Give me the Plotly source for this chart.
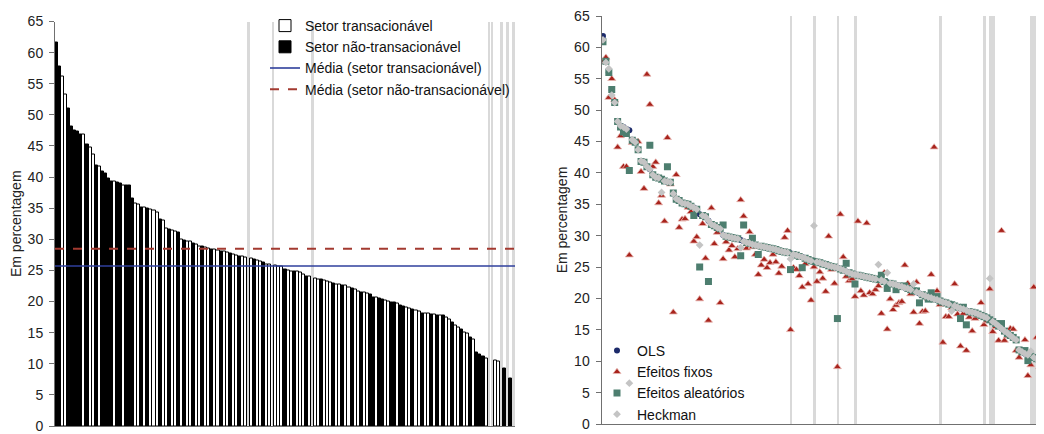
import plotly.graph_objects as go

# ---------------- Left panel data ----------------
n_slots = 151
slots = list(range(n_slots))
# bar values sorted (None = highlighted empty slot)
bar_values = [
    61.6, 57.7, 56.1, 53.3, 51.1, 48.2, 47.5, 47.3, 46.9, 46.8,
    45.2, 44.8, 43.6, 41.8, 41.7, 40.9, 40.6, 39.7, 39.3, 39.3,
    39.2, 39.0, 38.7, 38.6, 38.6, 36.6, 35.8, 35.6, 35.1, 35.1,
    35.0, 34.8, 34.6, 34.3, 33.2, 33.1, 31.8, 31.6, 31.4, 31.2,
    31.1, 29.9, 29.8, 29.7, 29.6, 29.4, 29.2, 28.9, 28.8, 28.7,
    28.6, 28.4, 28.3, 28.2, 28.1, 28.0, 27.9, 27.8, 27.5, 27.4,
    27.3, 27.2, 27.1, None, 26.9, 26.7, 26.6, 26.4, 26.2, 26.0,
    25.9, None, 25.8, 25.7, 25.7, 25.1, 25.0, 24.9, 24.9, 24.8,
    24.7, 24.4, 24.1, 24.0, None, 23.7, 23.6, 23.5, 23.4, 23.3,
    23.1, 22.9, 22.8, 22.7, 22.6, 22.5, 22.3, 22.1, 21.9, 21.6,
    21.5, 21.4, 21.3, 21.2, 20.7, 20.6, 20.5, 20.4, 20.1, 20.0,
    19.9, 19.8, 19.7, 19.3, 19.2, 19.0, 18.9, 18.7, 18.5, 18.4,
    18.1, 18.0, 18.0, 17.9, 17.9, 17.8, 17.7, 17.7, 17.4, 17.1,
    16.6, 16.2, 15.9, 15.5, 15.1, 14.8, 14.3, 13.9, 11.8, 11.5,
    11.1, 10.9, None, None, 10.6, 10.3, None, 9.2, None, 7.7,
    None,
]
# 1 = tradable (white), 0 = non-tradable (black)
bar_tradable = [
    0, 0, 1, 1, 0, 0, 0, 0, 0, 1,
    0, 1, 1, 0, 1, 0, 0, 0, 0, 1,
    0, 0, 1, 0, 0, 0, 1, 1, 0, 1,
    0, 1, 1, 1, 0, 1, 1, 0, 1, 1,
    0, 1, 0, 1, 1, 0, 1, 1, 0, 1,
    1, 0, 1, 1, 0, 1, 1, 0, 1, 1,
    0, 1, 1, 0, 1, 0, 1, 1, 0, 1,
    1, 0, 1, 1, 1, 0, 1, 1, 0, 1,
    1, 1, 0, 1, 0, 1, 1, 0, 1, 1,
    1, 0, 1, 1, 0, 1, 1, 0, 1, 1,
    0, 1, 1, 0, 0, 1, 0, 0, 1, 1,
    0, 0, 1, 0, 0, 1, 1, 0, 1, 1,
    0, 1, 1, 0, 1, 0, 1, 0, 1, 1,
    0, 1, 1, 0, 1, 1, 0, 1, 0, 0,
    0, 1, 0, 0, 1, 1, 0, 0, 0, 0,
    0,
]
left_band_slots = [63, 71, 84, 142, 143, 146, 148, 150]
mean_tradable = 25.7
mean_nontradable = 28.5

# ---------------- Right panel data ----------------
ols = [
    61.8, 57.8, 56.0, 53.2, 51.2, 48.2, 47.5, 47.3, 47.0, 46.8,
    45.3, 44.9, 43.7, 41.9, 41.7, 41.0, 40.6, 39.7, 39.3, 39.2,
    39.0, 38.7, 38.6, 38.5, 36.7, 35.9, 35.6, 35.2, 35.1, 35.0,
    34.7, 34.5, 34.2, 33.4, 33.2, 33.0, 32.4, 31.8, 31.6, 31.3,
    31.1, 30.1, 29.9, 29.8, 29.7, 29.6, 29.5, 29.3, 29.1, 28.9,
    28.8, 28.6, 28.5, 28.4, 28.3, 28.2, 28.1, 28.0, 27.9, 27.8,
    27.6, 27.5, 27.4, 27.3, 27.2, 27.0, 26.9, 26.7, 26.6, 26.4,
    26.2, 26.0, 25.9, 25.8, 25.7, 25.5, 25.4, 25.2, 25.1, 25.0,
    24.9, 24.7, 24.5, 24.3, 24.1, 23.9, 23.8, 23.7, 23.6, 23.5,
    23.4, 23.3, 23.2, 23.1, 23.0, 22.9, 22.7, 22.6, 22.4, 22.3,
    22.2, 22.0, 21.9, 21.7, 21.6, 21.4, 21.2, 21.0, 20.8, 20.6,
    20.4, 20.2, 20.1, 19.9, 19.8, 19.6, 19.4, 19.3, 19.1, 19.0,
    18.8, 18.6, 18.4, 18.3, 18.1, 17.9, 17.8, 17.7, 17.5, 17.3,
    17.1, 16.9, 16.6, 16.3, 16.0, 15.6, 15.2, 14.8, 14.5, 14.1,
    13.7, 13.4, 11.8, 11.5, 11.2, 11.0, 10.8, 10.6, 10.3, 10.1,
    9.8,
]
fixed_effects = [
    57.7, 58.4, 52.0, 55.0, 51.6, 44.1, 45.9, 41.0, 41.0, 26.9,
    44.8, 45.0, 45.0, 40.2, 37.5, 55.7, 50.9, 41.0, 41.7, 35.2,
    36.4, 32.3, 45.6, 38.2, 17.8, 39.7, 31.3, 32.6, 32.7, 34.5,
    33.8, 29.1, 29.8, 19.9, 31.9, 26.4, 16.5, 34.4, 28.7, 30.5,
    19.3, 26.3, 29.0, 27.7, 28.4, 26.6, 27.9, 35.7, 33.1, 28.0,
    30.6, 28.2, 27.0, 23.8, 25.3, 26.2, 24.9, 25.7, 27.0, 25.8,
    24.0, 25.1, 29.7, 30.8, 15.0, 24.9, 24.6, 23.6, 21.8, 25.5,
    22.3, 19.7, 25.0, 22.7, 24.2, 23.2, 21.1, 29.9, 24.6, 22.4,
    9.1, 33.4, 26.6, 23.5, 22.8, 23.1, 20.3, 32.3, 21.2, 20.5,
    32.0, 20.9, 20.7, 21.4, 22.0, 17.6, 24.1, 15.1, 19.9, 18.2,
    18.9, 19.3, 19.5, 25.3, 22.4, 20.7, 17.8, 22.6, 16.0, 17.9,
    18.0, 20.0, 23.8, 44.1, 21.2, 19.0, 13.0, 17.1, 17.1, 18.5,
    22.3, 17.5, 12.4, 17.6, 11.7, 17.0, 14.8, 16.8, 17.3, 19.3,
    15.8, 16.4, 21.5, 14.7, 15.5, 13.3, 30.8, 13.3, 14.0, 15.2,
    15.1, 11.7, 10.6, 11.7, 13.4, 7.7, 9.4, 21.8, 13.8, 9.1,
    7.4,
]
random_effects = [
    60.9, 57.8, 56.0, 53.3, 51.2, 48.2, 47.3, 46.5, 46.3, 40.4,
    45.2, 44.9, 43.7, 41.8, 41.7, 41.0, 44.4, 39.7, 39.3, 39.2,
    39.0, 38.7, 41.0, 38.5, 36.8, 35.8, 35.6, 35.2, 35.1, 35.0,
    34.7, 33.2, 34.2, 25.0, 33.2, 33.0, 22.7, 31.8, 31.6, 31.3,
    31.1, 31.7, 29.9, 29.8, 29.7, 29.6, 29.5, 26.8, 31.7, 28.9,
    28.8, 29.6, 28.5, 27.0, 28.3, 28.2, 28.1, 28.0, 27.9, 27.8,
    27.6, 27.5, 27.4, 27.3, 24.6, 27.0, 26.9, 26.7, 24.9, 26.4,
    26.2, 26.0, 25.9, 25.8, 25.7, 25.5, 25.4, 25.2, 25.1, 25.0,
    16.8, 24.7, 24.5, 25.6, 24.1, 23.9, 22.3, 23.7, 23.6, 23.5,
    23.4, 23.3, 23.2, 23.1, 23.0, 23.7, 22.7, 21.6, 22.4, 22.3,
    21.4, 22.0, 21.9, 22.0, 21.6, 21.4, 21.2, 21.2, 19.3, 20.6,
    20.4, 19.9, 20.9, 19.9, 20.3, 19.6, 19.4, 19.3, 19.1, 19.0,
    18.8, 18.6, 16.8, 18.6, 15.8, 17.9, 17.8, 17.7, 17.5, 17.3,
    17.1, 16.9, 16.6, 16.3, 16.0, 15.6, 16.0, 14.8, 14.4, 14.1,
    13.8, 13.4, 11.8, 11.5, 11.7, 10.1, 10.8, 10.6, 10.4, 10.1,
    9.2,
]
heckman = [
    61.2, 57.6, 56.6, 52.4, 51.2, 48.2, 47.5, 47.3, 47.0, 6.5,
    45.3, 44.9, 43.7, 41.9, 41.7, 41.0, 40.6, 39.7, 39.3, 39.2,
    36.9, 38.7, 38.6, 38.5, 36.7, 35.9, 35.6, 35.2, 35.1, 35.0,
    34.7, 34.5, 34.2, 28.5, 33.2, 33.0, 32.4, 31.8, 31.6, 31.3,
    31.1, 30.1, 29.9, 29.8, 29.7, 29.6, 29.5, 28.1, 29.1, 28.9,
    28.8, 28.6, 28.5, 28.4, 28.3, 28.2, 28.1, 28.0, 27.9, 27.8,
    27.6, 27.5, 27.4, 27.3, 26.3, 27.0, 26.9, 26.7, 26.6, 26.4,
    26.2, 26.0, 31.6, 25.8, 25.7, 25.5, 25.4, 25.2, 25.1, 25.0,
    24.9, 24.7, 24.5, 24.3, 24.1, 23.9, 23.8, 23.7, 23.6, 23.5,
    23.4, 23.3, 23.2, 23.1, 25.4, 22.9, 22.7, 24.1, 22.4, 22.3,
    22.2, 22.0, 21.9, 21.7, 21.6, 21.4, 22.3, 21.0, 20.8, 20.6,
    20.4, 20.2, 20.1, 19.9, 19.8, 19.6, 19.4, 19.3, 19.1, 18.0,
    18.8, 18.6, 18.4, 18.3, 18.1, 17.9, 17.8, 17.7, 17.5, 17.3,
    17.1, 16.9, 23.2, 16.3, 16.0, 15.6, 15.2, 14.8, 14.5, 14.1,
    13.7, 13.4, 11.8, 11.5, 11.2, 11.0, 11.6, 10.6, 10.3, 10.1,
    9.8,
]
right_band_slots = [64, 72, 80, 86, 115, 130, 132, 133, 146, 147, 150]

y_ticks = [0, 5, 10, 15, 20, 25, 30, 35, 40, 45, 50, 55, 60, 65]
y_max = 65
FONT = "Liberation Sans, Arial, sans-serif"
BAND = "#d9d9d9"

fig = go.Figure()

# ---- left panel ----
fig.add_trace(go.Bar(
    x=left_band_slots, y=[y_max] * len(left_band_slots), width=0.85,
    marker=dict(color=BAND, line=dict(width=0)), showlegend=False,
    xaxis="x", yaxis="y", hoverinfo="skip"))

x_t = [s for s in slots if bar_values[s] is not None and bar_tradable[s] == 1]
y_t = [bar_values[s] for s in x_t]
x_n = [s for s in slots if bar_values[s] is not None and bar_tradable[s] == 0]
y_n = [bar_values[s] for s in x_n]

fig.add_trace(go.Bar(
    x=x_t, y=y_t, width=1, name="Setor transacionável",
    marker=dict(color="white", line=dict(color="black", width=1)),
    xaxis="x", yaxis="y", legend="legend"))
fig.add_trace(go.Bar(
    x=x_n, y=y_n, width=1, name="Setor não-transacionável",
    marker=dict(color="black", line=dict(color="black", width=1)),
    xaxis="x", yaxis="y", legend="legend"))
fig.add_trace(go.Scatter(
    x=[-0.5, n_slots - 0.5], y=[mean_tradable, mean_tradable], mode="lines",
    name="Média (setor transacionável)", line=dict(color="#2f3f9c", width=1.6),
    xaxis="x", yaxis="y", legend="legend"))
fig.add_trace(go.Scatter(
    x=[-0.5, n_slots - 0.5], y=[mean_nontradable, mean_nontradable], mode="lines",
    name="Média (setor não-transacionável)",
    line=dict(color="#a33a30", width=2, dash="dash"),
    xaxis="x", yaxis="y", legend="legend"))

# ---- right panel ----
fig.add_trace(go.Bar(
    x=right_band_slots, y=[y_max] * len(right_band_slots), width=0.95,
    marker=dict(color=BAND, line=dict(width=0)), showlegend=False,
    xaxis="x2", yaxis="y2", hoverinfo="skip"))
fig.add_trace(go.Scatter(
    x=slots, y=ols, mode="markers", name="OLS",
    marker=dict(symbol="circle", size=6, color="#1c2a6a"),
    xaxis="x2", yaxis="y2", legend="legend2"))
fig.add_trace(go.Scatter(
    x=slots, y=fixed_effects, mode="markers", name="Efeitos fixos",
    marker=dict(symbol="triangle-up", size=7, color="#a8231c",
                line=dict(color="#e9b9b4", width=0.8)),
    xaxis="x2", yaxis="y2", legend="legend2"))
fig.add_trace(go.Scatter(
    x=slots, y=random_effects, mode="markers", name="Efeitos aleatórios",
    marker=dict(symbol="square", size=7, color="#4d7e6f"),
    xaxis="x2", yaxis="y2", legend="legend2"))
fig.add_trace(go.Scatter(
    x=slots, y=heckman, mode="markers", name="Heckman",
    marker=dict(symbol="diamond", size=6, color="#c4c4c4"),
    xaxis="x2", yaxis="y2", legend="legend2"))

# The page body has an 8 px default margin: the figure starts at (8, 8)
OFF = 8
W, H = 1044 - OFF, 434 - OFF
def px_x(p):
    return (p - OFF) / W
def px_y(p):
    return (H - (p - OFF)) / H

axis_common = dict(showgrid=False, zeroline=False, showline=True,
                   linecolor="#707070", linewidth=1, automargin=False)
yaxis_common = dict(range=[0, y_max], tickvals=y_ticks, ticks="outside",
                    ticklen=5, tickcolor="#707070", ticklabelstandoff=3,
                    ticklabeloverflow="allow",
                    tickfont=dict(size=14, color="#222", family=FONT),
                    title=dict(text="Em percentagem",
                               font=dict(size=14, color="#222", family=FONT),
                               standoff=3),
                    **axis_common)

fig.update_layout(
    width=W, height=H, margin=dict(l=0, r=0, t=0, b=0, autoexpand=False),
    paper_bgcolor="white", plot_bgcolor="white",
    font=dict(family=FONT, size=14, color="#111"),
    barmode="overlay", bargap=0,
    xaxis=dict(domain=[px_x(55), px_x(515)], range=[-0.5, n_slots - 0.5],
               showticklabels=False, ticks="", anchor="y", **axis_common),
    yaxis=dict(domain=[px_y(426), px_y(21.5)], anchor="x", **yaxis_common),
    xaxis2=dict(domain=[px_x(601.5), 1.0], range=[-0.5, n_slots - 0.5],
                showticklabels=False, ticks="", anchor="y2", **axis_common),
    yaxis2=dict(domain=[px_y(424), px_y(16)], anchor="x2", **yaxis_common),
    legend=dict(x=px_x(265), y=px_y(10), xanchor="left", yanchor="top",
                bgcolor="rgba(0,0,0,0)", font=dict(size=14, family=FONT, color="#111"),
                tracegroupgap=0, itemwidth=30),
    legend2=dict(x=px_x(597), y=px_y(335), xanchor="left", yanchor="top",
                 bgcolor="rgba(0,0,0,0)", font=dict(size=14, family=FONT, color="#111"),
                 tracegroupgap=0, itemwidth=30),
)

fig.write_html("out.html")
